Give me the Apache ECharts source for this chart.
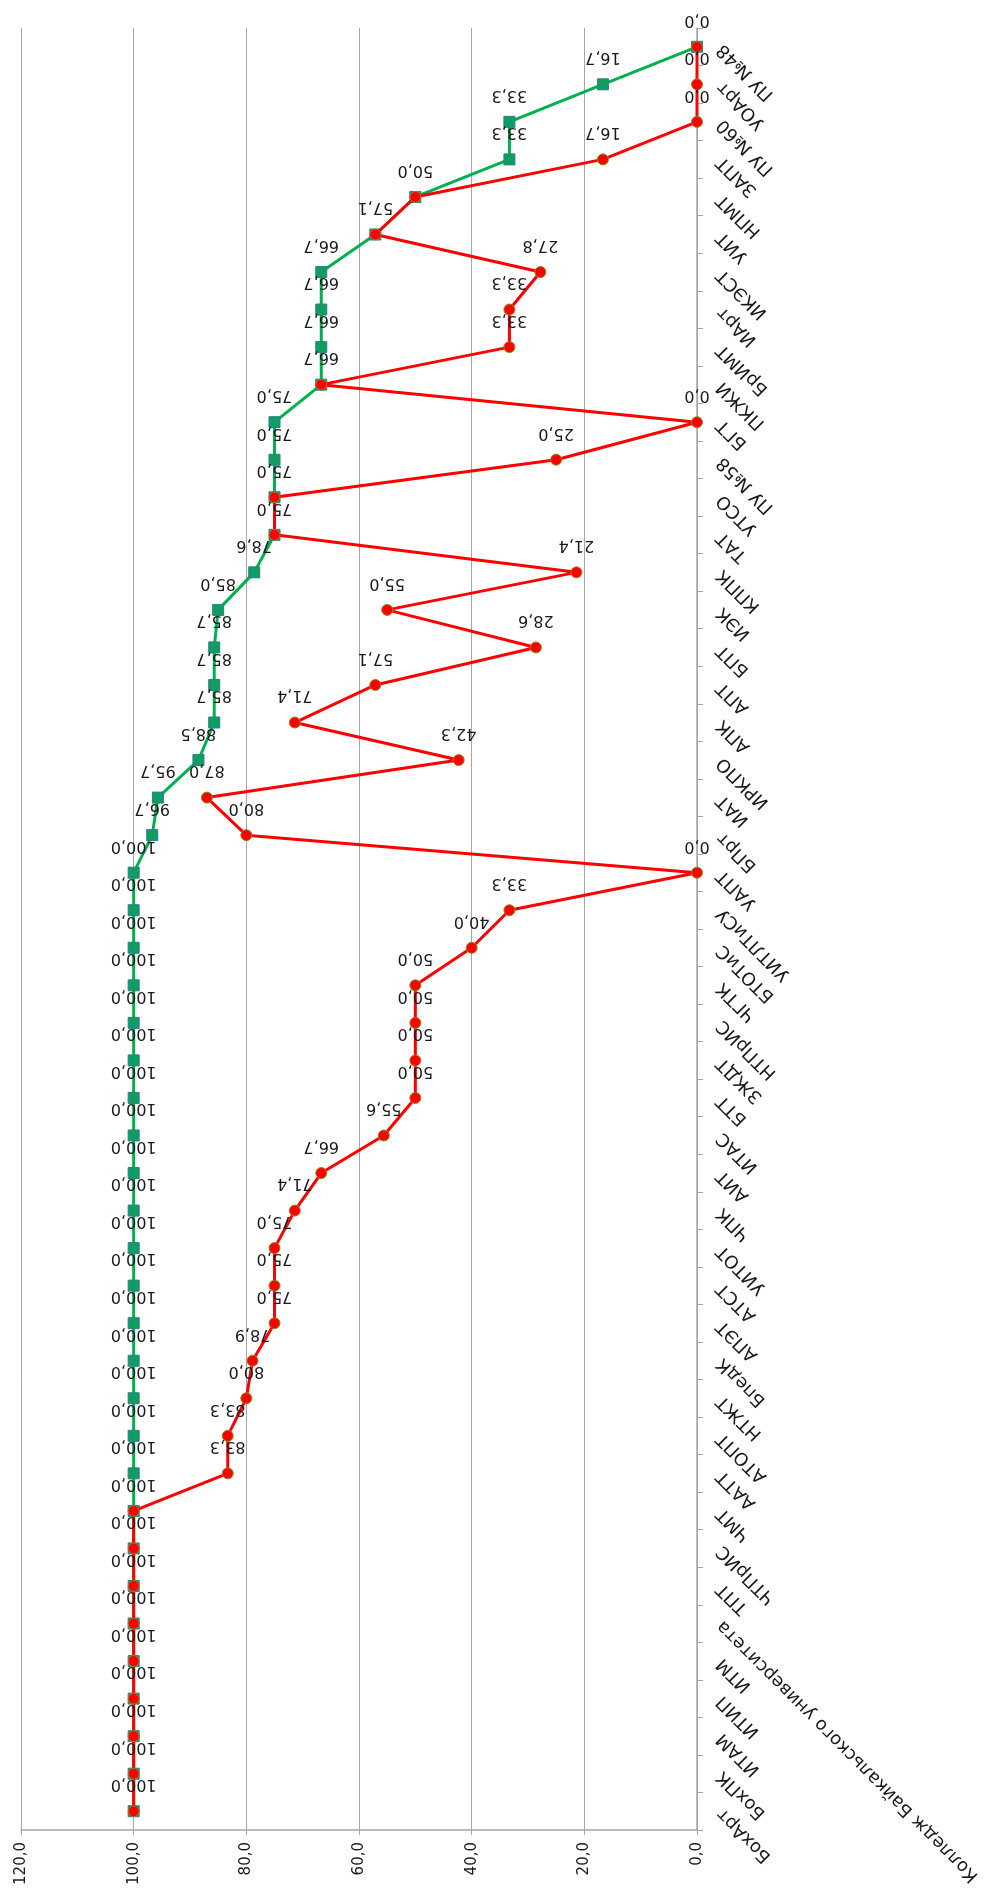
<!DOCTYPE html>
<html>
<head>
<meta charset="utf-8">
<script src="https://cdn.jsdelivr.net/npm/echarts@6/dist/echarts.min.js"></script>
<style>
html,body{margin:0;padding:0;background:#ffffff;}
#chart{width:987px;height:1901px;}
</style>
</head>
<body>
<div id="chart"></div>
<script>
// Categories (top to bottom as displayed)
const categories = [
  'ПУ №48','УОАрт','ПУ №60','ЗАПТ','НПМТ','УИТ','ИКЭСТ','ИАрт','БрИМТ','ПКЖИ',
  'БГТ','ПУ №58','УТСО','ТАТ','КППК','ИЭК','БПТ','АПТ','АПК','ИРКПО',
  'ИАТ','БПрт','УАПТ','УИТЛТиСУ','БТОТиС','ЧГТК','НТПрИС','ЗЖДТ','БТТ','ИТАС',
  'АИТ','ЧПК','УИТОТ','АТСТ','АПЭТ','БпедК','НТЖТ','АТОПТ','ААТТ','ЧМТ',
  'ЧТПрИС','ТПТ','Колледж Байкальского университета','ИТМ','ИТИП','ИТАМ','БохПК','БохАрт'
];

// Green series (square markers)
const greenValues = [
  0.0, 16.7, 33.3, 33.3, 50.0, 57.1, 66.7, 66.7, 66.7, 66.7,
  75.0, 75.0, 75.0, 75.0, 78.6, 85.0, 85.7, 85.7, 85.7, 88.5,
  95.7, 96.7, 100.0, 100.0, 100.0, 100.0, 100.0, 100.0, 100.0, 100.0,
  100.0, 100.0, 100.0, 100.0, 100.0, 100.0, 100.0, 100.0, 100.0, 100.0,
  100.0, 100.0, 100.0, 100.0, 100.0, 100.0, 100.0, 100.0
];

// Red series (circle markers)
const redValues = [
  0.0, 0.0, 0.0, 16.7, 50.0, 57.1, 27.8, 33.3, 33.3, 66.7,
  0.0, 25.0, 75.0, 75.0, 21.4, 55.0, 28.6, 57.1, 71.4, 42.3,
  87.0, 80.0, 0.0, 33.3, 40.0, 50.0, 50.0, 50.0, 50.0, 55.6,
  66.7, 71.4, 75.0, 75.0, 75.0, 78.9, 80.0, 83.3, 83.3, 100.0,
  100.0, 100.0, 100.0, 100.0, 100.0, 100.0, 100.0, 100.0
];

// Value axis ticks
const valueMin = 0;
const valueMax = 120;
const valueStep = 20;

const fmt = v => Number(v).toFixed(1).replace('.', ',');
const FONT = 'DejaVu Sans';

function labelCfg(hideWhenSameAsRed) {
  return {
    show: true,
    position: 'inside',
    rotate: 180,
    offset: [0, 27],
    align: 'center',
    verticalAlign: 'middle',
    fontFamily: FONT,
    fontSize: 16,
    color: '#1a1a1a',
    formatter: p => (hideWhenSameAsRed && redValues[p.dataIndex] === p.value) ? '' : fmt(p.value)
  };
}

const chart = echarts.init(document.getElementById('chart'), null, {renderer: 'canvas'});
chart.setOption({
  animation: false,
  backgroundColor: '#ffffff',
  grid: {left: 21, right: 290, top: 28, bottom: 71, containLabel: false, outerBoundsMode: 'none'},
  xAxis: {
    type: 'value',
    position: 'bottom',
    inverse: true,
    min: valueMin,
    max: valueMax,
    interval: valueStep,
    axisLine: {show: true, onZero: false, lineStyle: {color: '#a6a6a6', width: 1.5}},
    axisTick: {show: true, length: 5, lineStyle: {color: '#a6a6a6'}},
    splitLine: {show: true, lineStyle: {color: '#a6a6a6', width: 1}},
    axisLabel: {
      rotate: 90,
      margin: 12,
      fontFamily: FONT,
      fontSize: 15,
      color: '#1a1a1a',
      formatter: v => fmt(v)
    }
  },
  yAxis: {
    type: 'category',
    position: 'right',
    inverse: true,
    data: categories,
    boundaryGap: true,
    axisLine: {show: true, onZero: false, lineStyle: {color: '#a6a6a6', width: 1.5}},
    axisTick: {show: true, length: 6, alignWithLabel: false, lineStyle: {color: '#a6a6a6'}},
    splitLine: {show: false},
    axisLabel: {
      interval: 0,
      rotate: 135,
      margin: 23,
      fontFamily: FONT,
      fontSize: 18,
      color: '#1a1a1a',
      hideOverlap: false
    }
  },
  series: [
    {
      name: 'green',
      type: 'line',
      data: greenValues,
      symbol: 'rect',
      symbolSize: 11,
      z: 2,
      lineStyle: {color: '#00b050', width: 3},
      itemStyle: {color: '#0f9d62', borderColor: '#2e7d8c', borderWidth: 1},
      label: labelCfg(true)
    },
    {
      name: 'red',
      type: 'line',
      data: redValues,
      symbol: 'circle',
      symbolSize: 11,
      z: 3,
      lineStyle: {color: '#ff0000', width: 3},
      itemStyle: {color: '#ff0000', borderColor: '#8a8a20', borderWidth: 1},
      label: labelCfg(false)
    }
  ]
});
</script>
</body>
</html>
